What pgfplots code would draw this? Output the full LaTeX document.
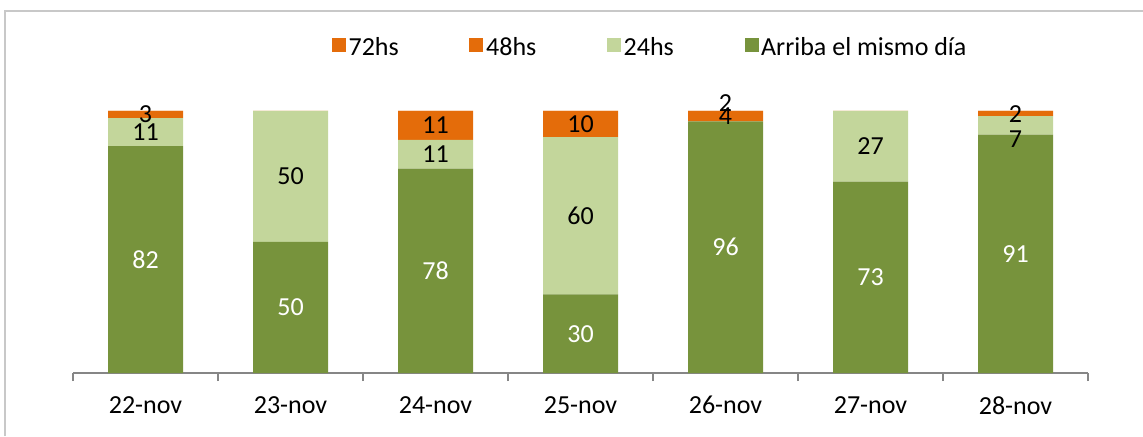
\documentclass[border=0pt]{standalone}
\usepackage{fontspec}
\setmainfont{Carlito}
\usepackage{pgfplots}
\pgfplotsset{compat=1.18}
\definecolor{cDark}{HTML}{77933C}
\definecolor{cLight}{HTML}{C3D69B}
\definecolor{cOrange}{HTML}{E46C0A}
\definecolor{cAxis}{HTML}{868686}
\definecolor{cFrame}{HTML}{C8C8C8}
\pgfplotsset{sqlegend/.style={legend image code/.code={\fill[##1] (0pt,-3.4pt) rectangle (10.5pt,7.1pt);}}}
\begin{document}
\begin{tikzpicture}[font=\fontsize{19.5}{23}\selectfont]
\useasboundingbox (0,0) rectangle (857.25pt,327pt);
\draw[cFrame, line width=1.3pt] (3.75pt,0pt) -- (3.75pt,318.75pt) -- (857.25pt,318.75pt);
\begin{axis}[
  at={(54.75pt,47.25pt)}, anchor=south west,
  scale only axis, width=761.25pt, height=196.5pt,
  xmin=0.5, xmax=7.5, ymin=0, ymax=100,
  ybar stacked, bar width=56.25pt,
  clip=false,
  axis x line*=bottom, axis y line=none,
  x axis line style={cAxis, line width=1.1pt, -},
  xtick={1,2,3,4,5,6,7},
  xticklabels={22-nov,23-nov,24-nov,25-nov,26-nov,27-nov,28-nov},
  minor xtick={0.5,1.5,2.5,3.5,4.5,5.5,6.5,7.5},
  major tick length=0pt, minor tick length=6pt, tick align=outside,
  minor tick style={cAxis, line width=1.1pt},
  xticklabel style={font=\fontsize{19.5}{23}\selectfont, yshift=-14pt},
  nodes near coords,
  point meta=explicit symbolic,
  every node near coord/.append style={font=\fontsize{19.5}{23}\selectfont, anchor=center},
  sqlegend,
  reverse legend,
  legend columns=4,
  legend style={at={(0.569,1.244)}, anchor=center, draw=none,
    font=\fontsize{19.5}{23}\selectfont,
    /tikz/every even column/.append style={column sep=51pt}},
]
\addplot[fill=cDark, draw=none, nodes near coords={\textcolor{white}{\pgfplotspointmeta}}] table[x=x, y=y, meta=lab] {
x y lab
1 86.6 82
2 50 50
3 78 78
4 30 30
5 96 96
6 73 73
7 91 91
};
\addlegendentry{Arriba el mismo día}
\addplot[fill=cLight, draw=none, visualization depends on={\thisrow{dy} \as \labdy},
  nodes near coords={\raisebox{\labdy pt}[\height][\depth]{\pgfplotspointmeta}}] table[x=x, y=y, meta=lab] {
x y lab dy
1 10.7 11 0
2 50 50 0
3 11 11 0
4 60 60 0
5 0 ~ 0
6 27 27 0
7 7 7 -10.5
};
\addlegendentry{24hs}
\addplot[fill=cOrange, draw=none] table[x=x, y=y, meta=lab] {
x y lab
1 2.7 3
2 0 ~
3 11 11
4 10 10
5 4 4
6 0 ~
7 2 2
};
\addlegendentry{48hs}
\addplot[fill=cOrange, draw=none, nodes near coords={\raisebox{6pt}[\height][\depth]{\pgfplotspointmeta}}] table[x=x, y=y, meta=lab] {
x y lab
1 0.01 ~
2 0.01 ~
3 0.01 ~
4 0.01 ~
5 0.01 2
6 0.01 ~
7 0.01 ~
};
\addlegendentry{72hs}
\end{axis}
\end{tikzpicture}
\end{document}
